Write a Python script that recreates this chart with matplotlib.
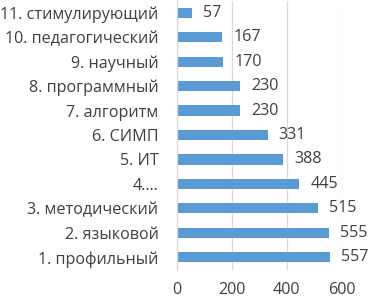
import matplotlib
matplotlib.use("Agg")
import matplotlib.pyplot as plt

categories = ["1. профильный", "2. языковой", "3. методический", "4.…", "5. ИТ",
              "6. СИМП", "7. алгоритм", "8. программный", "9. научный",
              "10. педагогический", "11. стимулирующий"]
values = [557, 555, 515, 445, 388, 331, 230, 230, 170, 167, 57]
xticks = [0, 200, 400, 600]

plt.rcParams['font.family'] = ['Open Sans', 'DejaVu Sans']
fig = plt.figure(figsize=(3.70, 2.99), dpi=100)
ax = fig.add_axes([176.5/370, 1 - 269.5/299, (341.7 - 176.5)/370, 269/299])

pos = list(range(len(categories)))
ax.barh(pos, values, height=0.42, color="#5B9BD5", zorder=2)
ax.set_xlim(0, 600)
ax.set_ylim(-0.5, len(categories) - 0.5)
ax.set_xticks(xticks)
ax.set_xticklabels([str(t) for t in xticks])
ax.set_yticks(pos)
ax.set_yticklabels(categories)
ax.tick_params(axis='both', length=0, labelsize=11.6, colors="#404040")
ax.tick_params(axis='y', pad=13)
ax.tick_params(axis='x', pad=9)
ax.grid(axis='x', color="#D9D9D9", linewidth=0.9, zorder=0)
for s in ['top', 'right', 'bottom']:
    ax.spines[s].set_visible(False)
ax.spines['left'].set_color("#D9D9D9")
ax.spines['left'].set_linewidth(0.9)

for p, v in zip(pos, values):
    ax.annotate(str(v), (v, p), xytext=(8, 0), textcoords='offset points',
                va='center', ha='left', fontsize=11.6, color="#404040", annotation_clip=False)

fig.savefig("out.png", dpi=100)
